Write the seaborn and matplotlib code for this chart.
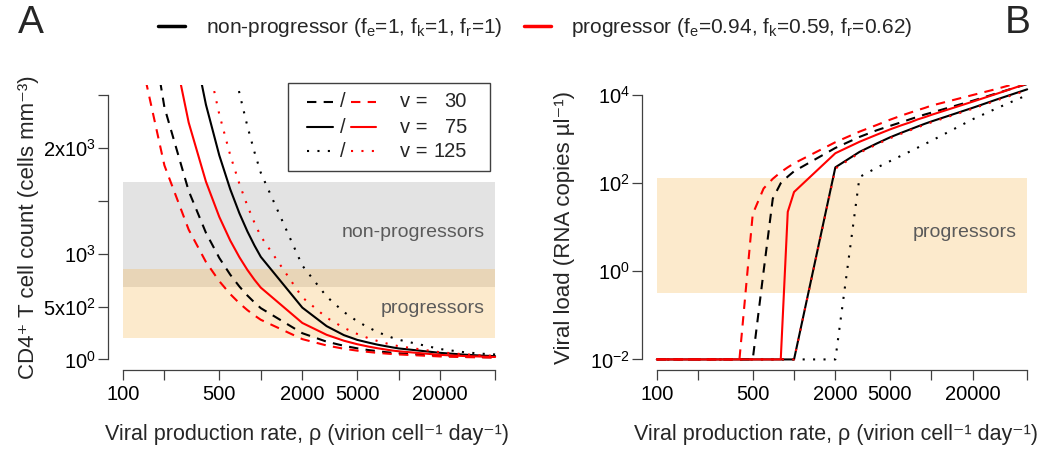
import numpy as np
import pandas as pd
import matplotlib
matplotlib.use('Agg')
import matplotlib.pyplot as plt
import seaborn as sns
from matplotlib.lines import Line2D

sns.set_theme(style='ticks')
plt.rcParams['font.family'] = ['Liberation Sans', 'DejaVu Sans']
plt.rcParams['mathtext.default'] = 'regular'

## Data
rho = [100, 200, 300, 400, 500, 600, 700, 800, 900, 1000,
       2000, 3000, 4000, 5000, 6000, 7000, 8000, 9000, 10000,
       20000, 30000, 40000, 50000]

# CD4+ T cell count (cells/mm3)
cd4_np_v30 = [4760, 2385, 1593, 1198, 960, 802, 689, 604, 538, 485,
              248, 168, 129, 105, 89, 78, 69, 63, 58, 34, 26, 22, 20]
cd4_np_v75 = [9610, 4810, 3210, 2410, 1930, 1610, 1381, 1210, 1077, 970,
              490, 315, 230, 185, 160, 140, 126, 114, 104, 62, 45, 36, 31]
cd4_np_v125 = [17560, 8785, 5860, 4398, 3520, 2935, 2517, 2204, 1960, 1765,
               888, 595, 449, 361, 303, 261, 229, 205, 186, 98, 68, 54, 47]
cd4_p_v30 = [3620, 1835, 1227, 922, 740, 618, 531, 466, 416, 375,
             192, 132, 101, 83, 71, 62, 56, 51, 47, 28, 22, 19, 17]
cd4_p_v75 = [6700, 3355, 2240, 1682, 1348, 1125, 966, 846, 753, 679,
             345, 233, 177, 144, 122, 106, 94, 84, 77, 43, 32, 27, 23]
cd4_p_v125 = [11550, 5780, 3857, 2895, 2318, 1933, 1659, 1452, 1292, 1164,
              587, 395, 299, 241, 202, 175, 154, 138, 125, 68, 48, 39, 33]

# log10 viral load (RNA copies/ul)
lvl_np_v30 = [-2, -2, -2, -2, -2, 0.0, 1.65, 2.0, 2.15, 2.27,
              2.8, 3.05, 3.2, 3.3, 3.38, 3.45, 3.51, 3.56, 3.6, 3.87, 4.04, 4.16, 4.25]
lvl_np_v75 = [-2, -2, -2, -2, -2, -2, -2, -2, -2, -2,
              2.36, 2.71, 2.9, 3.04, 3.14, 3.22, 3.29, 3.35, 3.4, 3.71, 3.9, 4.03, 4.13]
lvl_np_v125 = [-2, -2, -2, -2, -2, -2, -2, -2, -2, -2,
               -2, 2.14, 2.35, 2.5, 2.62, 2.72, 2.81, 2.89, 2.96, 3.45, 3.7, 3.87, 4.0]
lvl_p_v30 = [-2, -2, -2, -2, 1.3, 1.88, 2.1, 2.25, 2.36, 2.45,
             2.93, 3.17, 3.32, 3.44, 3.53, 3.6, 3.66, 3.71, 3.76, 4.0, 4.14, 4.25, 4.33]
lvl_p_v75 = [-2, -2, -2, -2, -2, -2, -2, -2, 1.35, 1.8,
             2.68, 2.94, 3.1, 3.22, 3.31, 3.38, 3.45, 3.5, 3.55, 3.85, 4.03, 4.16, 4.26]
lvl_p_v125 = [-2, -2, -2, -2, -2, -2, -2, -2, -2, -2,
              2.33, 2.69, 2.88, 3.02, 3.12, 3.2, 3.27, 3.33, 3.38, 3.69, 3.88, 4.01, 4.11]

# observed ranges (shaded bands)
band_rho = [100, 50000]
cd4_band_np = [682, 1676]
cd4_band_p = [199, 852]
vl_band_p = [0.33, 130]

v_levels = [30, 75, 125]
status_levels = ['non-progressor', 'progressor']
legend_labels = ['non-progressor ($f_e$=1, $f_k$=1, $f_r$=1)',
                 'progressor ($f_e$=0.94, $f_k$=0.59, $f_r$=0.62)']

## Build long table
parts = []
for status, v, cd4, lvl in [('non-progressor', 30, cd4_np_v30, lvl_np_v30),
                            ('non-progressor', 75, cd4_np_v75, lvl_np_v75),
                            ('non-progressor', 125, cd4_np_v125, lvl_np_v125),
                            ('progressor', 30, cd4_p_v30, lvl_p_v30),
                            ('progressor', 75, cd4_p_v75, lvl_p_v75),
                            ('progressor', 125, cd4_p_v125, lvl_p_v125)]:
    parts.append(pd.DataFrame({'rho': rho, 'cd4': cd4, 'vl': np.power(10.0, lvl),
                               'status': status, 'v': v}))
df = pd.concat(parts, ignore_index=True)

palette = {'non-progressor': 'black', 'progressor': '#FF0000'}
dashes = {30: (4.5, 3.5), 75: '', 125: (1, 4)}
axis_col = '#404040'
band_grey = '#E3E3E3'
band_orange = '#F7AF37'

fig = plt.figure(figsize=(10.46, 4.57), dpi=100)
axA = fig.add_axes([108/1046, 1-370/457, 402/1046, 285.5/457])
axB = fig.add_axes([642/1046, 1-370/457, 400/1046, 285.5/457])

for ax, y, xc in [(axA, 'cd4', 0.494), (axB, 'vl', 0.485)]:
    sns.lineplot(data=df, x='rho', y=y, hue='status', style='v',
                 hue_order=status_levels, style_order=v_levels,
                 palette=palette, dashes=dashes, estimator=None, sort=False,
                 legend=False, lw=1.5, ax=ax)
    ax.set_xscale('log')
    ax.set_xlim(10**1.892, 10**4.807)
    ax.set_xticks([100, 200, 500, 1000, 2000, 5000, 10000, 20000, 50000])
    ax.set_xticklabels(['100', '', '500', '', '2000', '5000', '', '20000', ''])
    ax.minorticks_off()
    for s in ['top', 'right']:
        ax.spines[s].set_visible(False)
    for s in ['left', 'bottom']:
        ax.spines[s].set_color(axis_col)
        ax.spines[s].set_linewidth(0.9)
    ax.spines['bottom'].set_bounds(100, 50000)
    ax.tick_params(length=7, width=0.9, color=axis_col, labelsize=14.5,
                   labelcolor='black')
    ax.tick_params(axis='x', pad=4)
    ax.tick_params(axis='y', pad=1.5)
    ax.set_xlabel('Viral production rate, \u03c1 (virion cell\u207b\u00b9 day\u207b\u00b9)',
                  fontsize=15.5)
    ax.xaxis.set_label_coords(xc, -0.19)

## Panel A
axA.fill_between(band_rho, cd4_band_np[0], cd4_band_np[1], color=band_grey, lw=0, zorder=0)
axA.fill_between(band_rho, cd4_band_p[0], cd4_band_p[1], color=band_orange, alpha=0.25, lw=0, zorder=0.5)
axA.set_ylim(-100, 2600)
axA.set_yticks([0, 500, 1000, 1500, 2000, 2500])
axA.set_yticklabels(['$10^0$', '$5x10^2$', '$10^3$', '', '$2x10^3$', ''])
axA.spines['left'].set_bounds(0, 2500)
axA.set_ylabel('CD4\u207a T cell count (cells mm\u207b\u00b3)', fontsize=16)
axA.yaxis.set_label_coords(-0.172, 0.5)
axA.text(42000, 1203, 'non-progressors', ha='right', va='center', fontsize=14, color='#5a5a5a')
axA.text(42000, 483, 'progressors', ha='right', va='center', fontsize=14, color='#5a5a5a')

# inner legend for v
box = plt.Rectangle((0.448, 0.697), 0.502, 0.308, transform=axA.transAxes,
                    fill=False, lw=1.0, ec=axis_col, clip_on=False)
axA.add_patch(box)
for fy, v in zip([0.939, 0.851, 0.767], v_levels):
    for (x0, x1), col in [((0.495, 0.560), 'black'), ((0.604, 0.667), '#FF0000')]:
        ln = Line2D([x0, x1], [fy, fy], transform=axA.transAxes, color=col, lw=1.5, clip_on=False)
        if dashes[v] != '':
            ln.set_dashes(dashes[v])
        axA.add_line(ln)
    axA.text(0.585, fy, '/', transform=axA.transAxes, ha='center', va='center', fontsize=14.5)
    axA.text(0.726, fy, 'v =', transform=axA.transAxes, ha='left', va='center', fontsize=14.5)
    axA.text(0.893, fy, str(v), transform=axA.transAxes, ha='right', va='center', fontsize=14.5)

## Panel B
axB.fill_between(band_rho, vl_band_p[0], vl_band_p[1], color=band_orange, alpha=0.25, lw=0, zorder=0)
axB.set_yscale('log')
axB.set_ylim(10**-2.24, 10**4.24)
axB.set_yticks([1e-2, 1, 1e2, 1e4])
axB.set_yticklabels(['$10^{-2}$', '$10^0$', '$10^2$', '$10^4$'])
axB.minorticks_off()
axB.spines['left'].set_bounds(1e-2, 1e4)
axB.set_ylabel('Viral load (RNA copies \u00b5l\u207b\u00b9)', fontsize=16)
axB.yaxis.set_label_coords(-0.1675, 0.5)
axB.text(42000, 7.7, 'progressors', ha='right', va='center', fontsize=14, color='#5a5a5a')

## Top legend and panel letters
handles = [Line2D([], [], color=palette[s], lw=2.5) for s in status_levels]
fig.legend(handles, legend_labels, loc='center', bbox_to_anchor=(0.512, 0.939), ncol=2,
           frameon=False, fontsize=15, handlelength=1.3, handletextpad=1.0,
           columnspacing=1.0)
fig.text(0.0172, 0.99, 'A', fontsize=28, va='top', ha='left')
fig.text(0.961, 0.988, 'B', fontsize=28, va='top', ha='left')

fig.savefig('out.png', dpi=100)
